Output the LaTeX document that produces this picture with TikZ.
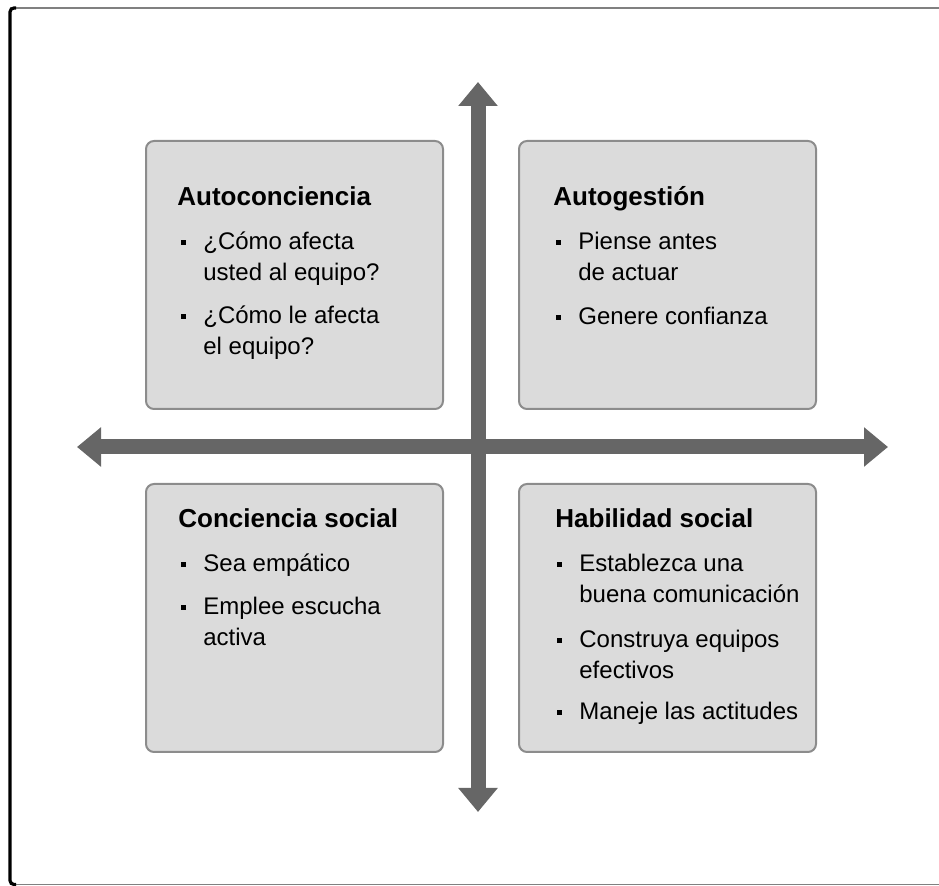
\documentclass[tikz,border=0pt]{standalone}
\usepackage{fontspec}
\setmainfont{Liberation Sans}
\usetikzlibrary{arrows.meta}
\definecolor{boxgray}{gray}{0.86}
\definecolor{edgegray}{gray}{0.55}
\definecolor{axisgray}{gray}{0.4}
\newcommand{\bul}{\makebox[0pt][r]{\rule[2.6pt]{2.6pt}{2.6pt}\hspace{8.5pt}}}

\begin{document}
\begin{tikzpicture}[x=0.5pt, y=-0.5pt,
    quad/.style={draw=edgegray, line width=1pt, fill=boxgray, rounded corners=4pt, minimum width=148.5pt, minimum height=134pt, inner sep=0pt, anchor=north west},
    head/.style={anchor=base west, inner sep=0pt, font=\fontsize{13}{15}\selectfont\bfseries},
    entry/.style={anchor=base west, inner sep=0pt, align=left, font=\fontsize{12}{15.5}\selectfont},
    axis/.style={draw=axisgray, line width=7.5pt, {Triangle[width=19pt,length=12pt]}-{Triangle[width=19pt,length=12pt]}}]
            \useasboundingbox (0,0) rectangle (939,886);

            % Frame
            \draw[gray, line width=0.7pt] (945,8) -- (10,8);
            \draw[gray, line width=0.7pt] (10,884.5) -- (945,884.5);
            \draw[black, line width=1.6pt, rounded corners=2pt] (16,8) -- (10,8) -- (10,884.5) -- (16,884.5);

            % Quadrants
            \node[quad] (tl) at (145,140) {};
            \node[quad] (tr) at (518,140) {};
            \node[quad] (bl) at (145,483) {};
            \node[quad] (br) at (518,483) {};

            % Axes
            \coordinate (n) at (478,82);
            \coordinate (s) at (478,812);
            \coordinate (w) at (77,447);
            \coordinate (e) at (888,447);
            \draw[axis] (n) -- (s);
            \draw[axis] (w) -- (e);

            % Texts (two-line entries sit on their last baseline)
            \node[head] (tlh) at (177,206) {Autoconciencia};
            \node[entry] (tl1) at (203,281) {\bul ¿Cómo afecta\\usted al equipo?};
            \node[entry] (tl2) at (203,355) {\bul ¿Cómo le afecta\\el equipo?};

            \node[head] (trh) at (553,206) {Autogestión};
            \node[entry] (tr1) at (578,281) {\bul Piense antes\\de actuar};
            \node[entry] (tr2) at (578,325) {\bul Genere confianza};

            \node[head] (blh) at (178,528) {Conciencia social};
            \node[entry] (bl1) at (203,572) {\bul Sea empático};
            \node[entry] (bl2) at (203,646) {\bul Emplee escucha\\activa};

            \node[head] (brh) at (555,528) {Habilidad social};
            \node[entry] (br1) at (579,603) {\bul Establezca una\\buena comunicación};
            \node[entry] (br2) at (579,679) {\bul Construya equipos\\efectivos};
            \node[entry] (br3) at (579,720) {\bul Maneje las actitudes};
        \end{tikzpicture}
\end{document}
